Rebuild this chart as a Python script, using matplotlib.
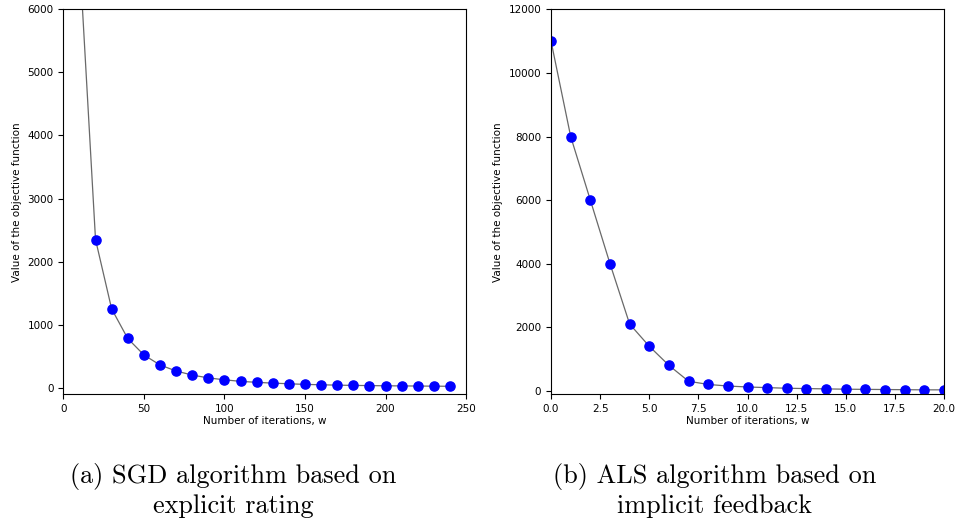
import matplotlib
matplotlib.use("Agg")
import matplotlib.pyplot as plt

# SGD on explicit ratings: objective value every 10 iterations
sgd_iters = list(range(0, 250, 10))
sgd_values = [15000, 6870, 2350, 1250, 780, 520, 360, 265, 200, 155, 125, 100,
              85, 72, 62, 52, 46, 40, 36, 33, 30, 28, 26, 24, 22]

# ALS on implicit feedback: objective value per iteration
als_iters = list(range(0, 21))
als_values = [11000, 8000, 6000, 4000, 2100, 1400, 800, 300, 200, 150, 120,
              100, 80, 70, 60, 50, 45, 40, 35, 30, 30]

captions = [("(a) SGD algorithm based on", "explicit rating"),
            ("(b) ALS algorithm based on", "implicit feedback")]

fig = plt.figure(figsize=(9.59, 5.23), dpi=100)
ax1 = fig.add_axes([0.066, 0.2467, 0.420, 0.7353])
ax2 = fig.add_axes([0.5746, 0.2467, 0.4098, 0.7353])

for ax, xs, ys in [(ax1, sgd_iters, sgd_values), (ax2, als_iters, als_values)]:
    ax.plot(xs, ys, color="dimgray", linewidth=0.9, marker="o",
            markersize=6.6, markerfacecolor="blue", markeredgecolor="blue")
    ax.set_xlabel("Number of iterations, w", fontsize=7.5, labelpad=2)
    ax.set_ylabel("Value of the objective function", fontsize=7.5)
    ax.tick_params(labelsize=7.5)

ax1.set_xlim(0, 250)
ax1.set_ylim(-100, 6000)
ax2.set_xlim(0, 20)
ax2.set_ylim(-100, 12000)

# sub-figure captions, one text per line
for xc, (line1, line2) in zip([0.243, 0.745], captions):
    fig.text(xc, 0.0765, line1, ha="center", va="baseline",
             fontsize=18.9, family="cmr10")
    fig.text(xc, 0.0197, line2, ha="center", va="baseline",
             fontsize=18.9, family="cmr10")

fig.savefig("out.png", dpi=100)
